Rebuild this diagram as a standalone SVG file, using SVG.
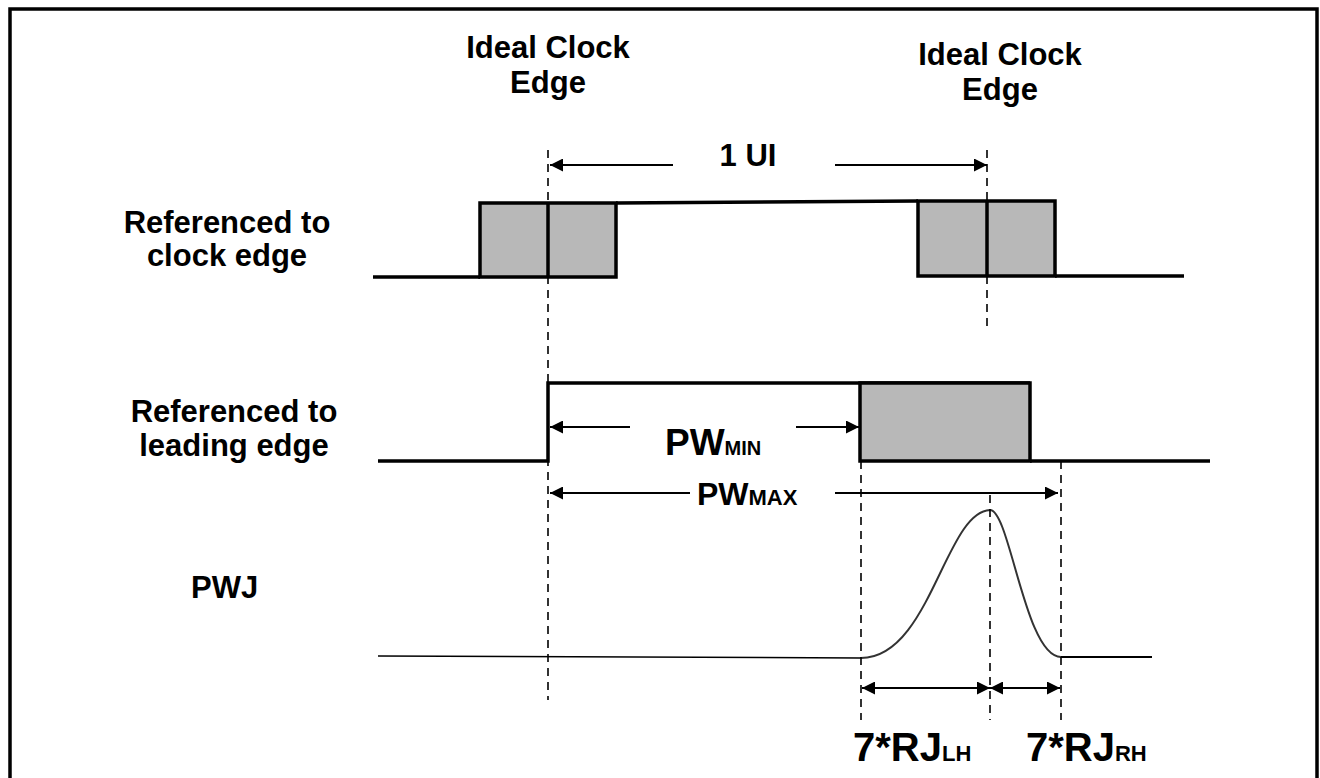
<svg xmlns="http://www.w3.org/2000/svg" width="1320" height="778" viewBox="0 0 1320 778">
<style>
text{font-family:"Liberation Sans",Arial,sans-serif;font-weight:bold;fill:#000}
.lbl{font-size:31px}
.big{font-size:37px}
.rj{font-size:40px}
.sub{font-size:20px}
.sub2{font-size:22px}
.sig{fill:none;stroke:#000;stroke-width:3.5}
.box{fill:#b8b8b8;stroke:#000;stroke-width:3.5}
.dash{stroke:#000;stroke-width:1.6;stroke-dasharray:8,6;fill:none}
.arr{stroke:#000;stroke-width:2;fill:none}
</style>
<defs>
<marker id="ah" viewBox="0 0 10 10" refX="10" refY="5" markerWidth="16" markerHeight="13" markerUnits="userSpaceOnUse" orient="auto-start-reverse">
<path d="M0,0 L10,5 L0,10 z" fill="#000"/>
</marker>
</defs>
<rect x="10" y="9" width="1307" height="800" fill="#fff" stroke="#000" stroke-width="3.5"/>

<g id="labels">
<text class="lbl" x="548" y="58" text-anchor="middle">Ideal Clock</text>
<text class="lbl" x="548" y="93" text-anchor="middle">Edge</text>
<text class="lbl" x="1000" y="65" text-anchor="middle">Ideal Clock</text>
<text class="lbl" x="1000" y="100" text-anchor="middle">Edge</text>
<text class="lbl" x="227" y="233" text-anchor="middle">Referenced to</text>
<text class="lbl" x="227" y="266" text-anchor="middle">clock edge</text>
<text class="lbl" x="234" y="422" text-anchor="middle">Referenced to</text>
<text class="lbl" x="234" y="456" text-anchor="middle">leading edge</text>
<text class="lbl" x="191" y="598">PWJ</text>
</g>

<g id="clock-signal">
<path class="sig" d="M373,277 H480 M616,203 L918,201 M1055,276 H1184"/>
<rect class="box" x="480" y="203" width="136" height="74"/>
<line class="sig" x1="548" y1="203" x2="548" y2="277"/>
<rect class="box" x="918" y="201" width="137" height="75"/>
<line class="sig" x1="987" y1="201" x2="987" y2="276"/>
</g>

<g id="leading-signal">
<path class="sig" d="M378,461 H548 V383 H1030 M1030,461 H1210"/>
<rect class="box" x="860" y="383" width="170" height="78"/>
</g>

<g id="pwj-curve">
<path d="M378,656 L861,658" stroke="#000" stroke-width="1.5" fill="none"/>
<path d="M1061,657 H1152" stroke="#000" stroke-width="2" fill="none"/>
<path d="M861,658 C930,658 945,512 990,510 C1010,510 1025,657 1061,657" stroke="#333" stroke-width="2" fill="none"/>
</g>

<g id="connectors">
<line class="dash" x1="548" y1="150" x2="548" y2="700"/>
<line class="dash" x1="987" y1="150" x2="987" y2="326"/>
<line class="dash" x1="861" y1="461" x2="861" y2="720"/>
<line class="dash" x1="990" y1="495" x2="990" y2="720"/>
<line class="dash" x1="1061" y1="461" x2="1061" y2="720"/>

<line class="arr" x1="673" y1="165" x2="550" y2="165" marker-end="url(#ah)"/>
<line class="arr" x1="835" y1="165" x2="987" y2="165" marker-end="url(#ah)"/>

<line class="arr" x1="630" y1="427" x2="550" y2="427" marker-end="url(#ah)"/>
<line class="arr" x1="796" y1="427" x2="859" y2="427" marker-end="url(#ah)"/>

<line class="arr" x1="690" y1="493" x2="550" y2="493" marker-end="url(#ah)"/>
<line class="arr" x1="835" y1="493" x2="1058" y2="493" marker-end="url(#ah)"/>

<line class="arr" x1="862" y1="688" x2="990" y2="688" marker-start="url(#ah)" marker-end="url(#ah)"/>
<line class="arr" x1="990" y1="688" x2="1060" y2="688" marker-start="url(#ah)" marker-end="url(#ah)"/>
</g>

<g id="dim-labels">
<text class="lbl" x="748" y="166" text-anchor="middle">1 UI</text>
<text class="big" x="665" y="455">PW<tspan class="sub">MIN</tspan></text>
<text class="big" x="697" y="505" style="font-size:32px">PW<tspan class="sub2">MAX</tspan></text>
<text class="rj" x="853" y="761">7*RJ<tspan class="sub2">LH</tspan></text>
<text class="rj" x="1026" y="761">7*RJ<tspan class="sub2">RH</tspan></text>
</g>
</svg>
